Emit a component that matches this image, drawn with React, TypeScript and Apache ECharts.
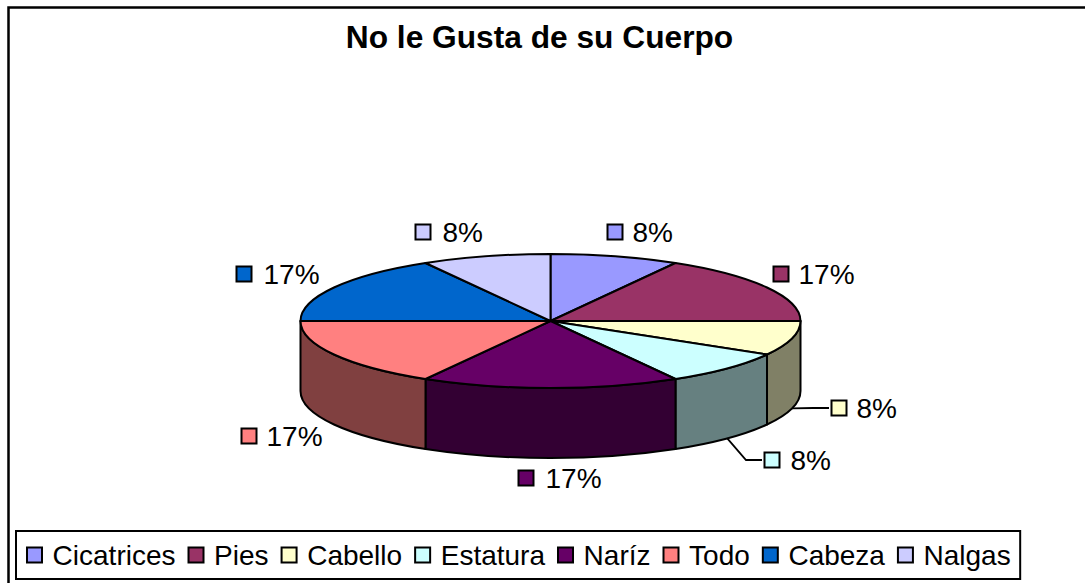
import React, { useEffect, useRef } from "react";
import * as echarts from "echarts";

const TITLE = "No le Gusta de su Cuerpo";
const categories = ["Cicatrices", "Pies", "Cabello", "Estatura", "Naríz", "Todo", "Cabeza", "Nalgas"];
const values = [1, 2, 1, 1, 2, 2, 2, 1];
const topColors = ["#9999FF", "#993366", "#FFFFCC", "#CCFFFF", "#660066", "#FF8080", "#0066CC", "#CCCCFF"];
const sideColors = ["#4D4D80", "#4D1A33", "#808066", "#668080", "#330033", "#804040", "#003366", "#666680"];

// Layout of the data-label keys (swatch left, swatch top) and leader bends.
const labelBoxes: [number, number][] = [
  [607, 224], [773, 266], [831, 400], [764, 452], [518, 470], [241, 428], [236, 266], [415, 224],
];
const labelTextGap = [10.5, 10.5, 10.5, 11.5, 12.5, 10.5, 12.5, 12.5];
const leaderBends: ([number, number] | null)[] = [
  null, null, [813, 408], [746, 460], null, null, null, null,
];

const FONT = "'Liberation Sans', Arial, sans-serif";
const CX = 550.5, CY = 321, RX = 250, RY = 67, DEPTH = 70, SWATCH = 15;

const total = values.reduce((a, b) => a + b, 0);
const starts = values.map((_, i) => values.slice(0, i).reduce((a, b) => a + b, 0));

const pt = (deg: number, dy = 0): [number, number] => {
  const r = (deg * Math.PI) / 180;
  return [CX + RX * Math.sin(r), CY - RY * Math.cos(r) + dy];
};

function renderSlice(index: number) {
  return (_params: any, api: any) => {
    const value = api.value(0) as number;
    const start = api.value(1) as number;
    const a0 = (start / total) * 360;
    const a1 = ((start + value) / total) * 360;
    const mid = (a0 + a1) / 2;
    const children: any[] = [];
    const line = { stroke: "#000", lineWidth: 2, lineJoin: "round" };

    const s0 = Math.max(a0, 90);
    const s1 = Math.min(a1, 270);
    if (s1 > s0) {
      const [x0, y0] = pt(s0);
      const [x1, y1] = pt(s1);
      children.push({
        type: "path",
        shape: {
          pathData: `M${x0} ${y0}A${RX} ${RY} 0 0 1 ${x1} ${y1}L${x1} ${y1 + DEPTH}A${RX} ${RY} 0 0 0 ${x0} ${y0 + DEPTH}Z`,
        },
        style: { fill: sideColors[index], ...line },
      });
    }

    const [tx0, ty0] = pt(a0);
    const [tx1, ty1] = pt(a1);
    children.push({
      type: "path",
      shape: { pathData: `M${CX} ${CY}L${tx0} ${ty0}A${RX} ${RY} 0 0 1 ${tx1} ${ty1}Z` },
      style: { fill: topColors[index], ...line },
    });

    const [bx, by] = labelBoxes[index];
    const bend = leaderBends[index];
    if (bend) {
      const rim = pt(mid, DEPTH);
      children.push({
        type: "polyline",
        shape: { points: [rim, bend, [bx - 2, bend[1]]] },
        style: { fill: "none", stroke: "#000", lineWidth: 1.8 },
      });
    }
    children.push({
      type: "rect",
      shape: { x: bx + 0.5, y: by + 0.5, width: SWATCH, height: SWATCH },
      style: { fill: topColors[index], stroke: "#000", lineWidth: 2 },
    });
    children.push({
      type: "text",
      style: {
        x: bx + SWATCH + labelTextGap[index],
        y: by + SWATCH / 2 + 0.5,
        text: `${Math.round((value / total) * 100)}%`,
        fill: "#000",
        font: `28px ${FONT}`,
        textAlign: "left",
        textVerticalAlign: "middle",
      },
    });
    return { type: "group", children };
  };
}

export default function App() {
  const ref = useRef<HTMLDivElement>(null);
  useEffect(() => {
    const chart = echarts.init(ref.current!, undefined, { renderer: "svg" });
    chart.setOption({
      animation: false,
      backgroundColor: "#fff",
      title: {
        text: TITLE,
        left: 534.5,
        top: 16,
        textAlign: "center",
        textStyle: { fontFamily: FONT, fontSize: 31.7, fontWeight: "bold", color: "#000" },
      },
      legend: {
        data: categories,
        left: 16,
        top: 531,
        orient: "horizontal",
        selectedMode: false,
        icon: "rect",
        itemWidth: 15,
        itemHeight: 15,
        itemGap: 12,
        padding: [10, 9.5, 10, 10],
        backgroundColor: "#fff",
        borderColor: "#000",
        borderWidth: 2,
        itemStyle: { borderColor: "#000", borderWidth: 2 },
        textStyle: { fontFamily: FONT, fontSize: 28, color: "#000", padding: [3, 0, 0, 5.6] },
      },
      graphic: [
        {
          type: "polyline",
          shape: { points: [[8.5, 583], [8.5, 7.5], [1085, 7.5]] },
          style: { fill: "none", stroke: "#000", lineWidth: 2.5 },
        },
      ],
      series: categories.map((name, i) => ({
        type: "custom",
        name,
        coordinateSystem: "none",
        silent: true,
        itemStyle: { color: topColors[i] },
        encode: { value: [0, 1] },
        data: [[values[i], starts[i]]],
        renderItem: renderSlice(i),
      })),
    });
    return () => chart.dispose();
  }, []);
  return <div ref={ref} style={{ position: "absolute", left: 0, top: 0, width: 1085, height: 583 }} />;
}
